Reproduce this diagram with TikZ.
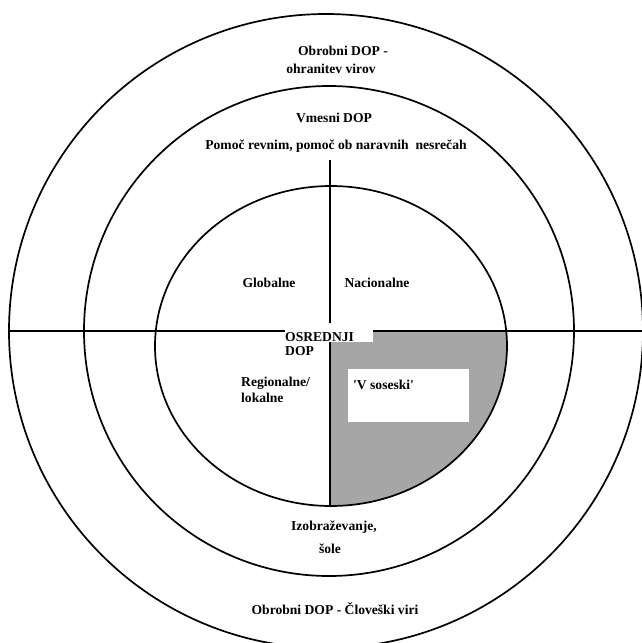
\documentclass[tikz,border=0pt]{standalone}
\usepackage{fontspec}
\setmainfont{Liberation Serif}
\usetikzlibrary{positioning}
\definecolor{DOPGray}{HTML}{A6A6A6}

\begin{document}
\begin{tikzpicture}[
  x=1pt, y=1pt,
  ringline/.style={draw=black, line width=1.7pt},
  axisline/.style={draw=black, line width=1.7pt},
  ringlabel/.style={inner sep=0pt, font=\bfseries\fontsize{13.6}{16}\selectfont},
  whitebox/.style={fill=white, draw=none}
]
\useasboundingbox (-329,-312) rectangle (313,331);
\coordinate (ctr) at (0,0);
\coordinate (innerctr) at (2,-15);
% shaded quadrant of the inner ring
\begin{scope}
  \clip (1,0) rectangle (200,-200);
  \fill[DOPGray] (innerctr) ellipse [x radius=176, y radius=160];
\end{scope}
% rings
\draw[ringline] (-3,0) circle [radius=317];
\draw[ringline] (ctr) circle [radius=245];
\draw[ringline] (innerctr) ellipse [x radius=176, y radius=160];
% axes
\coordinate (axisW) at (-320,0);
\coordinate (axisE) at (313,0);
\coordinate (axisN) at (1,171);
\coordinate (axisS) at (1,-175);
\draw[axisline] (axisW) -- (axisE);
\draw[axisline] (axisN) -- (axisS);
% boxes
\fill[whitebox] (-44,8) rectangle (44,-11);
\fill[whitebox] (19,-38) rectangle (140,-91);
% labels
\node[ringlabel] (outerA) at (14,280) {Obrobni DOP -};
\node[ringlabel] (outerB) at (2,262) {ohranitev virov};
\node[ringlabel] (middle) at (5,213.5) {Vmesni DOP};
\node[ringlabel] (aid) at (7,185) {Pomoč revnim, pomoč ob naravnih\ \ nesrečah};
\node[ringlabel] (global) at (-60,48) {Globalne};
\node[ringlabel] (national) at (48,48) {Nacionalne};
\node[ringlabel, anchor=west] (core) at (-44,-6) {OSREDNJI};
\node[ringlabel, anchor=west] (coreB) at (-44,-20) {DOP};
\node[ringlabel, anchor=west, align=left] (regional) at (-88,-59) {Regionalne/\\lokalne};
\node[ringlabel, anchor=west] (local) at (24,-54) {\textquotesingle V soseski\textquotesingle};
\node[ringlabel] (school) at (5,-196) {Izobraževanje,};
\node[ringlabel] (schoolB) at (1,-218) {šole};
\node[ringlabel] (human) at (6,-278) {Obrobni DOP - Človeški viri};
\end{tikzpicture}
\end{document}
